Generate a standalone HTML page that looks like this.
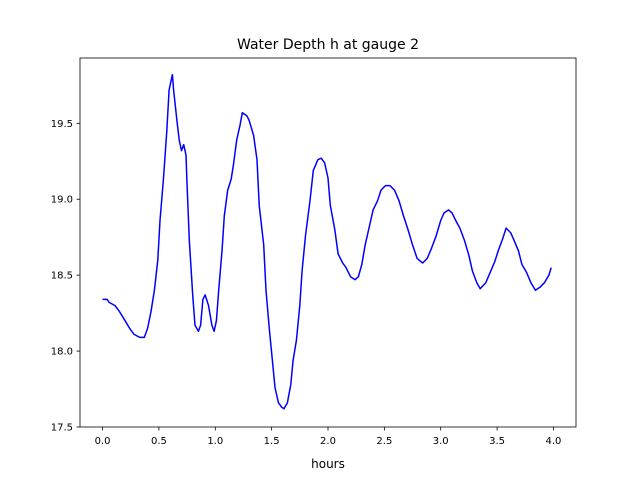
<!DOCTYPE html>
<html><head><meta charset="utf-8"><style>
html,body{margin:0;padding:0;background:#fff;}
svg{display:block;font-family:"DejaVu Sans","Liberation Sans",sans-serif;}
</style></head><body>
<svg id="chart" width="640" height="480">
<rect x="0" y="0" width="640" height="480" fill="#fff"/>
<text x="328" y="49" font-size="14" text-anchor="middle">Water Depth h at gauge 2</text>
<g id="plot"></g>
<text x="328" y="468" font-size="12" text-anchor="middle">hours</text>
</svg>
<script>
const hours=[0.00,0.04,0.06,0.11,0.15,0.20,0.24,0.28,0.33,0.37,0.40,0.43,0.46,0.49,0.51,0.54,0.57,0.59,0.62,0.63,0.66,0.68,0.70,0.72,0.74,0.75,0.77,0.80,0.82,0.85,0.87,0.89,0.91,0.94,0.97,0.99,1.01,1.03,1.06,1.08,1.11,1.14,1.16,1.19,1.22,1.24,1.28,1.30,1.34,1.37,1.39,1.43,1.45,1.48,1.51,1.53,1.56,1.59,1.61,1.64,1.67,1.69,1.72,1.75,1.77,1.80,1.84,1.87,1.91,1.94,1.97,2.00,2.02,2.06,2.09,2.13,2.16,2.20,2.24,2.27,2.30,2.33,2.37,2.40,2.44,2.47,2.51,2.55,2.59,2.63,2.67,2.71,2.75,2.79,2.84,2.88,2.92,2.96,3.00,3.03,3.07,3.10,3.14,3.17,3.21,3.25,3.28,3.32,3.35,3.40,3.44,3.48,3.51,3.55,3.58,3.62,3.65,3.69,3.72,3.76,3.80,3.84,3.88,3.92,3.96,3.98,4.00];
const depth=[18.34,18.34,18.32,18.30,18.26,18.20,18.15,18.11,18.09,18.09,18.15,18.26,18.40,18.60,18.86,19.13,19.45,19.72,19.82,19.72,19.52,19.39,19.32,19.36,19.29,19.09,18.73,18.37,18.17,18.13,18.17,18.34,18.37,18.30,18.17,18.13,18.20,18.40,18.66,18.89,19.06,19.13,19.22,19.39,19.49,19.57,19.55,19.52,19.42,19.26,18.96,18.70,18.40,18.14,17.91,17.76,17.66,17.63,17.62,17.66,17.78,17.94,18.07,18.30,18.53,18.76,18.99,19.19,19.26,19.27,19.24,19.14,18.96,18.80,18.64,18.58,18.55,18.49,18.47,18.49,18.57,18.70,18.83,18.93,18.99,19.06,19.09,19.09,19.06,18.99,18.89,18.80,18.70,18.61,18.58,18.61,18.68,18.76,18.86,18.91,18.93,18.91,18.85,18.81,18.73,18.63,18.53,18.45,18.41,18.45,18.52,18.59,18.66,18.74,18.81,18.78,18.73,18.66,18.57,18.52,18.45,18.40,18.42,18.45,18.50,18.55];
const xTicks=[0.0,0.5,1.0,1.5,2.0,2.5,3.0,3.5,4.0];
const yTicks=[17.5,18.0,18.5,19.0,19.5];
const xTickLabels=["0.0","0.5","1.0","1.5","2.0","2.5","3.0","3.5","4.0"];
const yTickLabels=["17.5","18.0","18.5","19.0","19.5"];

const L=80,R=576,T=58,B=427;
const xMin=-0.2,xMax=4.2,yMin=17.5,yMax=19.93;
const sx=v=>L+(v-xMin)/(xMax-xMin)*(R-L);
const sy=v=>B-(v-yMin)/(yMax-yMin)*(B-T);
const NS="http://www.w3.org/2000/svg";
const g=document.getElementById('plot');
function mk(tag,attrs){const e=document.createElementNS(NS,tag);for(const k in attrs)e.setAttribute(k,attrs[k]);g.appendChild(e);return e;}

const line=mk('polyline',{points:hours.map((h,i)=>sx(h).toFixed(1)+','+sy(depth[i]).toFixed(1)).join(' '),fill:'none',stroke:'#0000ff','stroke-width':1.5,'stroke-linejoin':'round'});



const frame=mk('rect',{x:L,y:T,width:R-L,height:B-T,fill:'none',stroke:'#000','stroke-width':0.8});



xTicks.forEach((v,i)=>{
  const x=sx(v);
  const t=mk('line',{x1:x,x2:x,y1:B,y2:B+3.5,stroke:'#000','stroke-width':0.8});
  
  
  const lb=mk('text',{x:x,y:B+17,'font-size':10,'text-anchor':'middle'});
  lb.textContent=xTickLabels[i];
  
  
});
yTicks.forEach((v,i)=>{
  const y=sy(v);
  const t=mk('line',{x1:L-3.5,x2:L,y1:y,y2:y,stroke:'#000','stroke-width':0.8});
  
  
  const lb=mk('text',{x:L-7,y:y+3.5,'font-size':10,'text-anchor':'end'});
  lb.textContent=yTickLabels[i];
  
  
});
</script>
</body></html>
